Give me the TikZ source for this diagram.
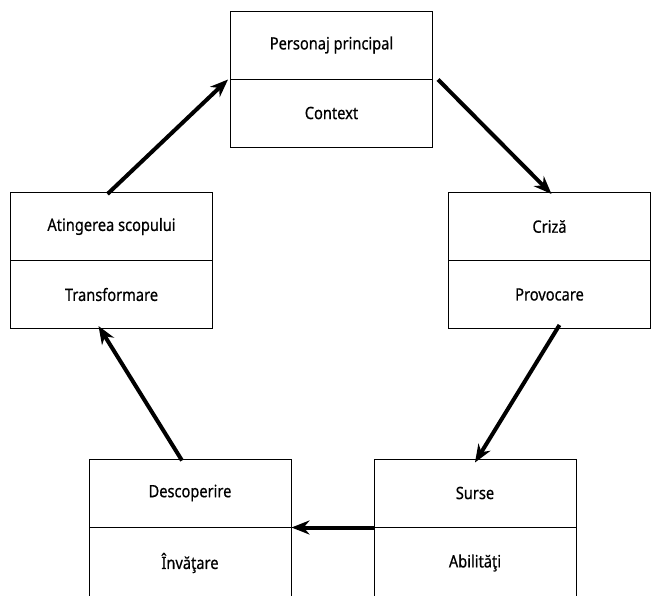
\documentclass[tikz,border=0pt]{standalone}
\usepackage{fontspec}
\setmainfont[FakeStretch=0.86,FakeBold=0.6]{Noto Sans}
\usetikzlibrary{arrows.meta}
\begin{document}
\begin{tikzpicture}[x=1pt,y=-1pt,
  half/.style={draw, line width=1pt, minimum width=202pt, minimum height=68pt,
    inner sep=0pt, font=\fontsize{17}{20}\selectfont\bfseries},
  lowhalf/.style={half, minimum height=72pt},
  flow/.style={line width=4pt, -{Stealth[length=18pt,width=14pt]}}]
\useasboundingbox (0,0) rectangle (651,595);
% top box
\node[half] (tU) at (331.5,45) {Personaj principal};
\node[half] (tL) at (331.5,113) {Context};
% left box
\node[half] (lU) at (111.5,226.5) {Atingerea scopului};
\node[half] (lL) at (111.5,294.5) {Transformare};
% right box
\node[half] (rU) at (549.5,226.5) {Criză};
\node[half] (rL) at (549.5,294.5) {Provocare};
% bottom left box
\node[half] (bU) at (190,493) {Descoperire};
\node[lowhalf] (bL) at (190,563) {Învăţare};
% bottom right box
\node[half] (cU) at (475,493) {Surse};
\node[lowhalf] (cL) at (475,563) {Abilităţi};
% arrows
\draw[flow] ([xshift=5pt]tU.south east) -- ([xshift=2pt,yshift=-2pt]rU.north);
\draw[flow] ([xshift=10pt,yshift=4pt]rL.south) -- ([yshift=-4pt]cU.north);
\draw[flow] (cU.south west) -- (bU.south east);
\draw[flow] ([xshift=-8pt,yshift=-2pt]bU.north) -- ([xshift=-13pt,yshift=3pt]lL.south);
\draw[flow] ([xshift=-4pt,yshift=-2pt]lU.north) -- ([xshift=-2pt]tU.south west);
\end{tikzpicture}
\end{document}
